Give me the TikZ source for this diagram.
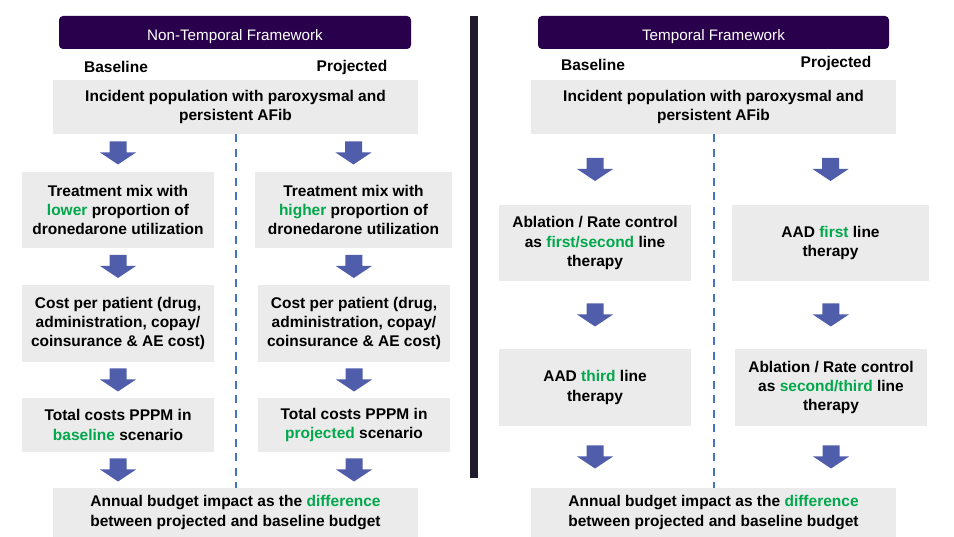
\documentclass[tikz,border=0pt]{standalone}
\usepackage{fontspec}
\setmainfont{Liberation Sans}
\usetikzlibrary{calc}
\definecolor{boxgray}{RGB}{235,235,235}
\definecolor{titlepurple}{RGB}{40,0,75}
\definecolor{arrowblue}{RGB}{79,93,170}
\definecolor{dashblue}{RGB}{68,114,196}
\definecolor{barblack}{RGB}{34,27,43}
\definecolor{keygreen}{RGB}{0,168,75}
\newcommand\grn[1]{\textcolor{keygreen}{#1}}
\tikzset{
  stepbox/.style={fill=boxgray, inner sep=0pt, align=center,
    font=\bfseries\fontsize{15.5}{19.3}\selectfont},
  titlebar/.style={fill=titlepurple, rounded corners=4pt, inner sep=0pt,
    text=white, text height=16pt, text depth=0pt,
    font=\fontsize{15.2}{17}\selectfont},
  colhead/.style={inner sep=0pt, font=\bfseries\fontsize{15.5}{19}\selectfont},
  divider/.style={draw=dashblue, line width=2pt, dash pattern=on 8pt off 6.5pt},
  downarrow/.pic={
    \fill[arrowblue] (-8.5,-11.5) -- (8.5,-11.5) -- (8.5,-0.5) -- (18,-0.5)
      -- (0,11.5) -- (-18,-0.5) -- (-8.5,-0.5) -- cycle;}
}
\begin{document}
\begin{tikzpicture}[x=1pt, y=-1pt]
\useasboundingbox (0,0) rectangle (954,537);

% ---------- Non-temporal framework ----------
\node[titlebar, minimum width=352, minimum height=33] (titleL) at (235,32.5) {Non-Temporal Framework};
\node[colhead] (baseL) at (116,67) {Baseline};
\node[colhead] (projL) at (352,67) {Projected};
\node[stepbox, minimum width=365, minimum height=54] (topL) at (235.5,107)
  {Incident population with paroxysmal and\\persistent AFib};
\node[stepbox, minimum width=192, minimum height=76] (b2L) at (118,210)
  {Treatment mix with\\\grn{lower} proportion of\\dronedarone utilization};
\node[stepbox, minimum width=197, minimum height=76] (b2R) at (353.5,210)
  {Treatment mix with\\\grn{higher} proportion of\\dronedarone utilization};
\node[stepbox, minimum width=192, minimum height=77] (b3L) at (118,323.5)
  {Cost per patient (drug,\\administration, copay/\\coinsurance \& AE cost)};
\node[stepbox, minimum width=192, minimum height=77] (b3R) at (354,323.5)
  {Cost per patient (drug,\\administration, copay/\\coinsurance \& AE cost)};
\node[stepbox, minimum width=192, minimum height=54] (b4L) at (118,425)
  {Total costs PPPM in\\\grn{baseline} scenario};
\node[stepbox, minimum width=192, minimum height=54] (b4R) at (354,425)
  {Total costs PPPM in\\\grn{projected} scenario};
\node[stepbox, minimum width=365, minimum height=49] (botL) at (235.5,512.5)
  {Annual budget impact as the \grn{difference}\\between projected and baseline budget};

\draw[divider] (topL.south) -- (botL.north);

\pic at ($(topL.south -| b2L.north)!0.5!(b2L.north)$) {downarrow};
\pic at ($(topL.south -| b2R.north)!0.5!(b2R.north)$) {downarrow};
\pic at ($(b2L.south)!0.5!(b3L.north)$) {downarrow};
\pic at ($(b2R.south)!0.5!(b3R.north)$) {downarrow};
\pic at ($(b3L.south)!0.5!(b4L.north)$) {downarrow};
\pic at ($(b3R.south)!0.5!(b4R.north)$) {downarrow};
\pic at ($(b4L.south)!0.5!(b4L.south |- botL.north)$) {downarrow};
\pic at ($(b4R.south)!0.5!(b4R.south |- botL.north)$) {downarrow};

% ---------- separator ----------
\fill[barblack] (470,16) rectangle (478,478);

% ---------- Temporal framework ----------
\node[titlebar, minimum width=351, minimum height=33] (titleR) at (713.5,32.5) {Temporal Framework};
\node[colhead] (baseR) at (593,65) {Baseline};
\node[colhead] (projR) at (836,63) {Projected};
\node[stepbox, minimum width=365, minimum height=54] (topR) at (713.5,107)
  {Incident population with paroxysmal and\\persistent AFib};
\node[stepbox, minimum width=192, minimum height=76] (r1L) at (595,243)
  {Ablation / Rate control\\as \grn{first/second} line\\therapy};
\node[stepbox, minimum width=197, minimum height=76] (r1R) at (830.5,243)
  {AAD \grn{first} line\\therapy};
\node[stepbox, minimum width=192, minimum height=77] (r2L) at (595,387.5)
  {AAD \grn{third} line\\therapy};
\node[stepbox, minimum width=192, minimum height=77] (r2R) at (831,387.5)
  {Ablation / Rate control\\as \grn{second/third} line\\therapy};
\node[stepbox, minimum width=365, minimum height=49] (botR) at (713.5,512.5)
  {Annual budget impact as the \grn{difference}\\between projected and baseline budget};

\draw[divider] (topR.south) -- (botR.north);

\pic at ($(topR.south -| r1L.north)!0.5!(r1L.north)$) {downarrow};
\pic at ($(topR.south -| r1R.north)!0.5!(r1R.north)$) {downarrow};
\pic at ($(r1L.south)!0.5!(r2L.north)$) {downarrow};
\pic at ($(r1R.south)!0.5!(r2R.north)$) {downarrow};
\pic at ($(r2L.south)!0.5!(r2L.south |- botR.north)$) {downarrow};
\pic at ($(r2R.south)!0.5!(r2R.south |- botR.north)$) {downarrow};
\end{tikzpicture}
\end{document}
